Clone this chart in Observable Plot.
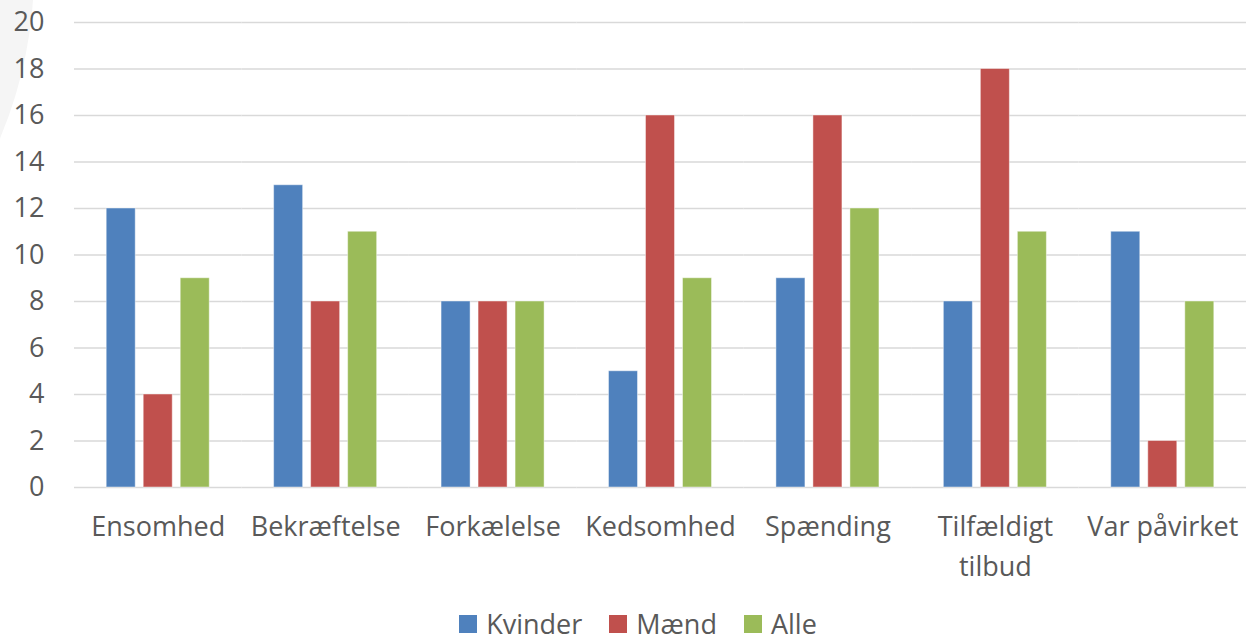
<!DOCTYPE html>
<html>
<head>
<meta charset="utf-8">
<script src="https://cdn.jsdelivr.net/npm/d3@7"></script>
<script src="https://cdn.jsdelivr.net/npm/@observablehq/plot@0.6"></script>
<style>
  html, body { margin: 0; padding: 0; background: #fff; overflow: hidden; }
  body { width: 1246px; height: 642px; position: relative; font-family: "Open Sans", sans-serif; }
  #deco { position: absolute; left: -834px; top: -464px; width: 868px; height: 868px; border-radius: 50%; background: #f5f5f5; z-index: 0; }
  #chart { position: relative; z-index: 1; }
  #chart svg { background: transparent !important; }
  #legend { position: relative; z-index: 1; display: flex; justify-content: center; margin-left: 30px; margin-top: 4px; gap: 27px; color: #595959; font-size: 27px; line-height: 30px; }
  .item { display: flex; align-items: center; gap: 9px; }
  .sw { width: 18px; height: 18px; display: inline-block; }
</style>
</head>
<body>
<div id="deco"></div>
<div id="chart"></div>
<div id="legend"></div>
<script>
const categories = ["Ensomhed", "Bekræftelse", "Forkælelse", "Kedsomhed", "Spænding", "Tilfældigt tilbud", "Var påvirket"];
const categoryLabels = ["Ensomhed", "Bekræftelse", "Forkælelse", "Kedsomhed", "Spænding", "Tilfældigt\ntilbud", "Var påvirket"];
const series = ["Kvinder", "Mænd", "Alle"];
const kvinder = [12, 13, 8, 5, 9, 8, 11];
const maend = [4, 8, 8, 16, 16, 18, 2];
const alle = [9, 11, 8, 9, 12, 11, 8];
const colors = ["#4F81BD", "#C0504D", "#9BBB59"];
const yTicks = [0, 2, 4, 6, 8, 10, 12, 14, 16, 18, 20];

const values = [kvinder, maend, alle];
const data = [];
categories.forEach((c, i) => series.forEach((s, j) => data.push({category: c, series: s, value: values[j][i]})));
const labelOf = new Map(categories.map((c, i) => [c, categoryLabels[i]]));

const plot = Plot.plot({
  width: 1246,
  height: 605,
  marginLeft: 74,
  marginRight: 0,
  marginTop: 22,
  marginBottom: 118,
  style: {fontFamily: "Open Sans, sans-serif", fontSize: "27px", color: "#595959", background: "transparent"},
  fx: {domain: categories, padding: 0, round: false, label: null},
  x: {domain: series, paddingInner: 0.216, paddingOuter: 0.87, round: false, axis: null},
  y: {domain: [0, 20], label: null},
  color: {domain: series, range: colors},
  marks: [
    Plot.ruleY(yTicks, {stroke: "#d9d9d9", strokeWidth: 1.5}),
    Plot.barY(data, {fx: "category", x: "series", y: "value", fill: "series", stroke: "#ffffff", strokeOpacity: 0.45, strokeWidth: 1}),
    Plot.axisY({ticks: yTicks, tickSize: 0, tickPadding: 30, fill: "#595959", label: null, fontSize: 27}),
    Plot.axisFx({anchor: "bottom", tickSize: 0, tickPadding: 20, fill: "#595959", label: null, fontSize: 27, tickFormat: d => labelOf.get(d), lineHeight: 1.48})
  ]
});
document.getElementById("chart").appendChild(plot);

const legend = document.getElementById("legend");
series.forEach((s, i) => {
  const it = document.createElement("div");
  it.className = "item";
  it.innerHTML = `<span class="sw" style="background:${colors[i]}"></span><span>${s}</span>`;
  legend.appendChild(it);
});
</script>
</body>
</html>
